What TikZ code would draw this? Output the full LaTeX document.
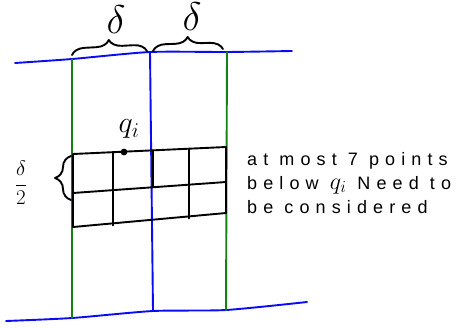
\RequirePackage{fix-cm}
\documentclass[tikz,border=0pt]{standalone}
\usepackage{amsmath}
\usepackage{fontspec}
\setsansfont{Liberation Sans}
\usetikzlibrary{calc, decorations.pathreplacing, positioning}

\definecolor{penblue}{RGB}{10,10,245}
\definecolor{pengreen}{RGB}{20,130,20}

\begin{document}
\begin{tikzpicture}[
    x=1pt, y=-1pt,
    pen/.style={line width=1.9pt, line cap=round, line join=round},
    strip/.style={pen, draw=pengreen},
    split/.style={pen, draw=penblue},
    cell/.style={pen, draw=black},
    curly/.style={pen, draw=black, decorate, decoration={brace, amplitude=#1}},
    sym/.style={inner sep=0pt, font=\fontsize{#1}{#1}\selectfont},
    note/.style={inner sep=0pt, align=left, font=\sffamily\fontsize{18}{24}\selectfont\addfontfeature{LetterSpace=34}}
]
\useasboundingbox (0,0) rectangle (468,327);

% Top and bottom boundaries
\coordinate (top-w) at (15,63);
\coordinate (top-l) at (72,59);
\coordinate (top-m) at (150,52);
\coordinate (top-r) at (227,52);
\coordinate (top-e) at (292,51);
\coordinate (bot-w) at (6,321);
\coordinate (bot-l) at (72,318);
\coordinate (bot-m) at (153,311);
\coordinate (bot-r) at (226,310);
\coordinate (bot-e) at (307,302);

\draw[split] plot[smooth, tension=0.4] coordinates {(top-w) (top-l) (top-m) (top-r) (top-e)};
\draw[split] plot[smooth, tension=0.4] coordinates {(bot-w) (bot-l) (bot-m) (bot-r) (bot-e)};

% Strip of width 2 delta
\draw[strip] (top-l) -- (bot-l);
\draw[strip] (top-r) -- (bot-r);
\draw[split] (top-m) -- (bot-m);

% Braces
\draw[curly=13pt] (72,55) -- (147,51);
\draw[curly=13pt] (153,51) -- (223,49);
\node[sym=40] (d-left) at (116,20) {$\delta$};
\node[sym=40] (d-right) at (192,17) {$\delta$};

% Grid below q_i
\coordinate (g-tl) at (73,154);
\coordinate (g-tr) at (226,147);
\coordinate (g-ml) at (73,193);
\coordinate (g-mr) at (226,182);
\coordinate (g-bl) at (73,227);
\coordinate (g-br) at (226,213);

\draw[cell] (g-tl) -- (g-tr) -- (g-br) -- (g-bl) -- cycle;
\draw[cell] (g-ml) -- (g-mr);
\foreach \t in {0.26, 0.76}
    \draw[cell] ($(g-tl)!\t!(g-tr)$) -- ($(g-bl)!\t!(g-br)+(0,2)$);
\draw[cell] ($(g-tl)!0.52!(g-tr)$) -- ($(g-ml)!0.52!(g-mr)$);

\fill (124,152) circle (3.4pt) coordinate (qi);
\node[sym=30] (qi-label) at (129,129) {$q_i$};

% Half delta
\draw[curly=16pt] (71,200) -- (71,156);
\node[sym=21] (half) at (21,183) {$\dfrac{\delta}{2}$};

% Remark
\node[note, anchor=base west] (remark) at (247,213) {at most 7 points\\below {\fontsize{24}{24}\selectfont$q_i$} Need to\\be considered};

\end{tikzpicture}
\end{document}
